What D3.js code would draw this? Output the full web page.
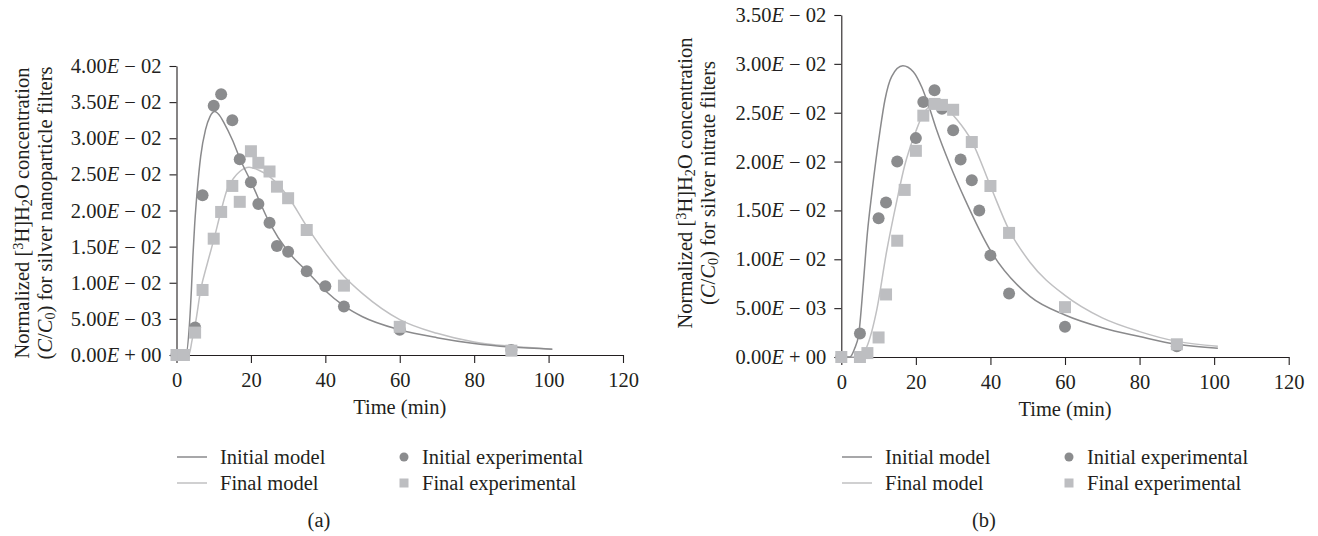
<!DOCTYPE html>
<html>
<head>
<meta charset="utf-8">
<script src="https://cdn.jsdelivr.net/npm/d3@7"></script>
<style>
  body { margin: 0; background: #fff; }
  text { font-family: "Liberation Serif", "Times New Roman", serif; fill: #231f20; }
</style>
</head>
<body>
<script>
// ---- data ----
const xTicks = [0, 20, 40, 60, 80, 100, 120];
const yTicksA = [0, 0.005, 0.01, 0.015, 0.02, 0.025, 0.03, 0.035, 0.04];
const yTicksB = [0, 0.005, 0.01, 0.015, 0.02, 0.025, 0.03, 0.035];
const legendLabels = ['Initial model', 'Final model', 'Initial experimental', 'Final experimental'];

// (a) silver nanoparticle filters
const tInitExpA = [0, 2, 5, 7, 10, 12, 15, 17, 20, 22, 25, 27, 30, 35, 40, 45, 60, 90];
const initExpA = [0, 0, 0.0038, 0.0221, 0.0345, 0.0361, 0.0325, 0.0271, 0.0239, 0.0209, 0.0183, 0.0151, 0.0143, 0.0116, 0.0095, 0.0067, 0.0035, 0.0007];
const tFinalExpA = [0, 2, 5, 7, 10, 12, 15, 17, 20, 22, 25, 27, 30, 35, 45, 60, 90];
const finalExpA = [0, 0, 0.0031, 0.0090, 0.0161, 0.0198, 0.0234, 0.0212, 0.0282, 0.0266, 0.0254, 0.0233, 0.0217, 0.0173, 0.0096, 0.0039, 0.0006];
const tInitModelA = [0, 2.5, 3.5, 4.0, 4.4, 4.9, 5.6, 6.5, 7.8, 9.0, 10.3, 11.5, 12.8, 15, 17.2, 20, 25, 30, 35, 40, 45, 50, 60, 70, 80, 90, 101];
const initModelA = [0, 0, 0.0044, 0.0090, 0.0136, 0.0182, 0.0229, 0.0275, 0.0312, 0.0330, 0.0337, 0.0332, 0.0321, 0.0298, 0.0270, 0.0240, 0.0183, 0.0143, 0.0116, 0.0089, 0.0068, 0.0053, 0.0035, 0.0024, 0.0016, 0.0011, 0.0008];
const tFinalModelA = [0, 3.3, 4.2, 5.1, 6.5, 8.3, 10.1, 11.9, 13.6, 15.4, 17, 19.5, 22, 25, 30, 35, 40, 45, 50, 60, 70, 80, 90, 101];
const finalModelA = [0, 0, 0.0021, 0.0044, 0.0090, 0.0127, 0.0161, 0.0198, 0.0229, 0.0245, 0.0254, 0.0260, 0.0256, 0.0247, 0.0219, 0.0178, 0.0141, 0.0109, 0.0085, 0.0049, 0.0030, 0.0018, 0.0012, 0.0008];

// (b) silver nitrate filters
const tInitExpB = [0, 5, 10, 12, 15, 20, 22, 25, 27, 30, 32, 35, 37, 40, 45, 60, 90];
const initExpB = [0, 0.0024, 0.0142, 0.0158, 0.0200, 0.0224, 0.0261, 0.0273, 0.0254, 0.0232, 0.0202, 0.0181, 0.0150, 0.0104, 0.0065, 0.0031, 0.0011];
const tFinalExpB = [0, 5, 7, 10, 12, 15, 17, 20, 22, 25, 27, 30, 35, 40, 45, 60, 90];
const finalExpB = [0, 0, 0.0004, 0.0020, 0.0064, 0.0119, 0.0171, 0.0211, 0.0247, 0.0259, 0.0258, 0.0253, 0.0220, 0.0175, 0.0127, 0.0051, 0.0013];
const tInitModelB = [0, 2.3, 3.5, 4.7, 5.9, 7.0, 8.2, 10.4, 11.7, 13.5, 16.5, 19.3, 21.6, 23.8, 25.6, 29, 33.2, 40, 50.6, 60, 70, 80, 90, 101];
const initModelB = [0, 0, 0.0008, 0.0024, 0.0075, 0.0127, 0.0168, 0.0232, 0.0263, 0.0287, 0.0298, 0.0292, 0.0276, 0.0253, 0.0232, 0.0198, 0.0161, 0.0109, 0.0062, 0.0043, 0.0030, 0.0021, 0.0013, 0.0009];
const tFinalModelB = [0, 5, 6.8, 9.5, 12.2, 14.9, 17, 20, 22, 24, 26, 28, 31, 35, 40, 45, 50.6, 60, 70, 80, 90, 101];
const finalModelB = [0, 0, 0.0010, 0.0048, 0.0109, 0.0160, 0.0196, 0.0231, 0.0249, 0.0257, 0.0259, 0.0255, 0.0243, 0.0221, 0.0175, 0.0130, 0.0097, 0.0063, 0.0040, 0.0026, 0.0016, 0.0011];

// ---- styles ----
const darkMark = '#8b8c8e', lightMark = '#bdbec1';
const darkLine = '#8a8a8c', lightLine = '#c0c0c2';
const axisColor = '#231f20';
const fontSize = 20.5;

const svg = d3.select('body').append('svg')
  .attr('width', 1318)
  .attr('height', 536);

const zip = (t, v) => t.map((d, i) => ({ t: d, v: v[i] }));

// 4.00E − 02 style labels
function sciLabel(sel, v) {
  let [m, e] = v.toExponential(2).split('e');
  let n = +e;
  let sign = n < 0 ? '\u2212' : '+';
  let ex = String(Math.abs(n)).padStart(2, '0');
  sel.text(null);
  sel.append('tspan').text(m);
  sel.append('tspan').attr('font-style', 'italic').text('E');
  sel.append('tspan').text(' ' + sign + ' ' + ex);
}

function drawPanel(p) {
  let x = d3.scaleLinear().domain([0, 120]).range([p.x0, p.x1]);
  let y = d3.scaleLinear().domain([0, p.yMax]).range([p.y0, p.y1]);

  // axes
  let gx = svg.append('g')
    .attr('transform', `translate(0, ${p.y0})`)
    .call(d3.axisBottom(x).tickValues(xTicks).tickSize(8).tickSizeOuter(0).tickPadding(9).tickFormat(d3.format('d')));
  let gy = svg.append('g')
    .attr('transform', `translate(${p.x0}, 0)`)
    .call(d3.axisLeft(y).tickValues(p.yTicks).tickSize(7).tickSizeOuter(0).tickPadding(8));
  gy.selectAll('.tick text').each(function(d) { sciLabel(d3.select(this), d); });
  [gx, gy].forEach(g => {
    g.selectAll('path, line').attr('stroke', axisColor).attr('stroke-width', 1.1);
    g.selectAll('text').attr('font-family', null).style('font-size', fontSize + 'px').attr('fill', axisColor);
  });

  // axis titles
  svg.append('text')
    .attr('x', (p.x0 + p.x1) / 2)
    .attr('y', p.y0 + 59)
    .attr('text-anchor', 'middle')
    .style('font-size', fontSize + 'px')
    .text('Time (min)');

  let t1 = svg.append('text')
    .attr('transform', `translate(${p.titleX}, ${p.titleY}) rotate(-90)`)
    .attr('text-anchor', 'middle')
    .style('font-size', fontSize + 'px');
  t1.append('tspan').text('Normalized [');
  t1.append('tspan').attr('baseline-shift', '40%').style('font-size', '70%').text('3');
  t1.append('tspan').text('H]H');
  t1.append('tspan').attr('baseline-shift', '-22%').style('font-size', '70%').text('2');
  t1.append('tspan').text('O concentration');

  let t2 = svg.append('text')
    .attr('transform', `translate(${p.titleX + 23}, ${p.titleY}) rotate(-90)`)
    .attr('text-anchor', 'middle')
    .style('font-size', fontSize + 'px');
  t2.append('tspan').text('(');
  t2.append('tspan').attr('font-style', 'italic').text('C');
  t2.append('tspan').text('/');
  t2.append('tspan').attr('font-style', 'italic').text('C');
  t2.append('tspan').attr('baseline-shift', '-22%').style('font-size', '70%').text('0');
  t2.append('tspan').text(') for ' + p.filter);

  // model lines
  let line = d3.line().x(d => x(d.t)).y(d => y(d.v)).curve(d3.curveMonotoneX);
  svg.append('path').datum(zip(p.tFinalModel, p.finalModel))
    .attr('d', line).attr('fill', 'none').attr('stroke', lightLine).attr('stroke-width', 1.5);
  svg.append('path').datum(zip(p.tInitModel, p.initModel))
    .attr('d', line).attr('fill', 'none').attr('stroke', darkLine).attr('stroke-width', 1.5);

  // experimental points
  svg.append('g').selectAll('circle')
    .data(zip(p.tInitExp, p.initExp))
    .join('circle')
    .attr('cx', d => x(d.t)).attr('cy', d => y(d.v)).attr('r', 6)
    .attr('fill', darkMark);
  svg.append('g').selectAll('rect')
    .data(zip(p.tFinalExp, p.finalExp))
    .join('rect')
    .attr('x', d => x(d.t) - 6).attr('y', d => y(d.v) - 6)
    .attr('width', 12).attr('height', 12)
    .attr('fill', lightMark);

  // legend
  let lg = svg.append('g').attr('transform', `translate(${p.legX}, 457)`);
  [darkLine, lightLine].forEach((c, i) => {
    lg.append('line').attr('x1', 0).attr('x2', 30).attr('y1', i * 26).attr('y2', i * 26)
      .attr('stroke', c).attr('stroke-width', 1.5);
    lg.append('text').attr('x', 43).attr('y', i * 26 + 7).style('font-size', fontSize + 'px').text(legendLabels[i]);
  });
  lg.append('circle').attr('cx', 227).attr('cy', 0).attr('r', 4.5).attr('fill', darkMark);
  lg.append('rect').attr('x', 222.5).attr('y', 26 - 4.5).attr('width', 9).attr('height', 9).attr('fill', lightMark);
  lg.append('text').attr('x', 245).attr('y', 7).style('font-size', fontSize + 'px').text(legendLabels[2]);
  lg.append('text').attr('x', 245).attr('y', 33).style('font-size', fontSize + 'px').text(legendLabels[3]);

  svg.append('text')
    .attr('x', p.capX).attr('y', 527)
    .attr('text-anchor', 'middle')
    .style('font-size', fontSize + 'px')
    .text(p.caption);
}

drawPanel({
  x0: 176.5, x1: 623, y0: 355, y1: 66, yMax: 0.04, yTicks: yTicksA,
  titleX: 29, titleY: 213, filter: 'silver nanoparticle filters',
  tInitExp: tInitExpA, initExp: initExpA, tFinalExp: tFinalExpA, finalExp: finalExpA,
  tInitModel: tInitModelA, initModel: initModelA, tFinalModel: tFinalModelA, finalModel: finalModelA,
  legX: 177, capX: 319, caption: '(a)'
});

drawPanel({
  x0: 841.3, x1: 1288.7, y0: 357, y1: 15, yMax: 0.035, yTicks: yTicksB,
  titleX: 692, titleY: 183, filter: 'silver nitrate filters',
  tInitExp: tInitExpB, initExp: initExpB, tFinalExp: tFinalExpB, finalExp: finalExpB,
  tInitModel: tInitModelB, initModel: initModelB, tFinalModel: tFinalModelB, finalModel: finalModelB,
  legX: 842, capX: 984, caption: '(b)'
});
</script>
</body>
</html>
